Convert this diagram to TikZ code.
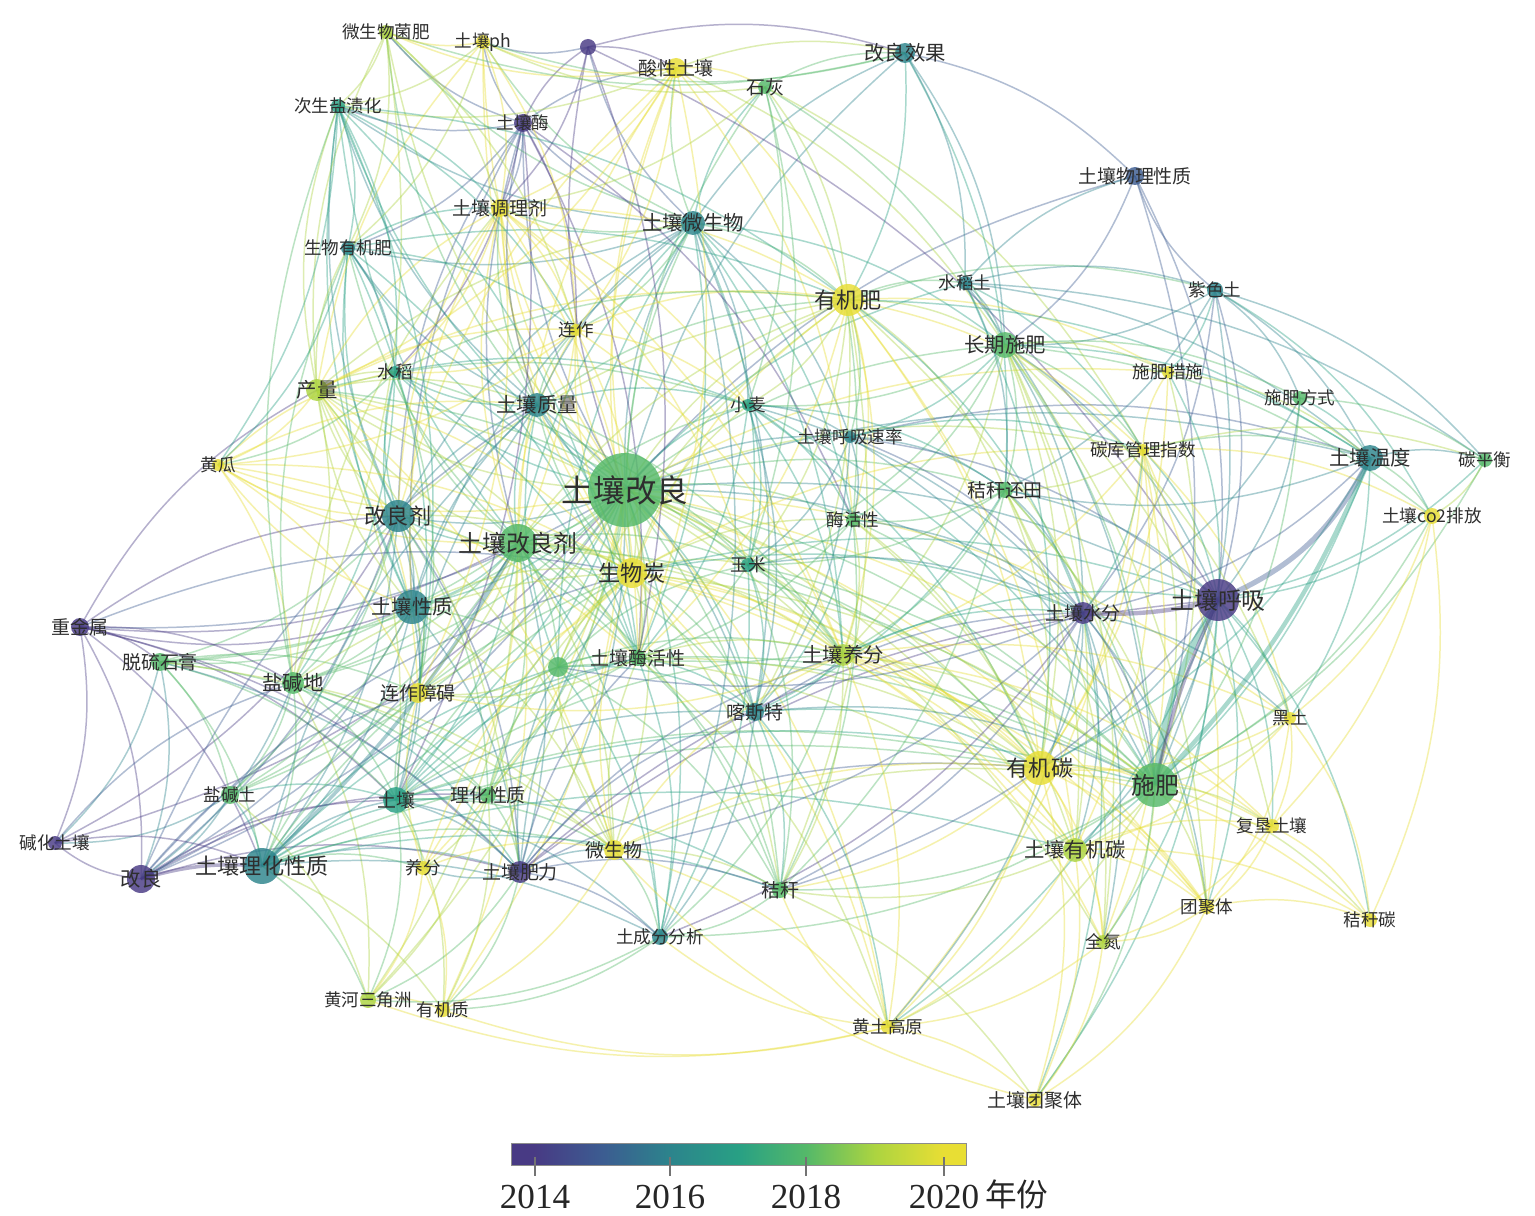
\documentclass[tikz,border=0pt]{standalone}
\usepackage{fontspec}
\setmainfont{Liberation Serif}
\newfontfamily\cjk{Noto Sans CJK SC}
\usetikzlibrary{backgrounds}
\definecolor{c14}{RGB}{72,58,132}
\definecolor{c15}{RGB}{60,92,145}
\definecolor{c16}{RGB}{44,132,140}
\definecolor{c17}{RGB}{40,160,132}
\definecolor{c18}{RGB}{85,185,105}
\definecolor{c19}{RGB}{172,212,64}
\definecolor{c20}{RGB}{232,222,52}
\pgfdeclarehorizontalshading{vir}{100bp}{color(0bp)=(c14); color(25bp)=(c14); color(27.5bp)=(c14); color(35bp)=(c15); color(42.5bp)=(c16); color(50bp)=(c17); color(57.5bp)=(c18); color(65bp)=(c19); color(72.5bp)=(c20); color(75bp)=(c20); color(100bp)=(c20)}
\def\fA{\fontsize{10}{12}\selectfont}
\def\fB{\fontsize{10.8}{13}\selectfont}
\def\fC{\fontsize{11.6}{14}\selectfont}
\def\fD{\fontsize{12.6}{15}\selectfont}
\def\fE{\fontsize{13.6}{16}\selectfont}
\def\fF{\fontsize{18}{21}\selectfont}
\def\nodelist{%
wswjf/386/32/19/7/\fA/微生物菌肥,
ph/483/42/20/7/\fA/土壤ph,
pdot/588/47/14/8/\fA/,
sxtr/676/68/20/10/\fB/酸性土壤,
sh/765/87/18/7/\fB/石灰,
glxg/905/53/16/10/\fC/改良效果,
csyzh/338/106/17/7/\fA/次生盐渍化,
trm/523/123/14/9/\fA/土壤酶,
trtlj/500/208/20/9/\fB/土壤调理剂,
trwsw/693/223/16/12/\fC/土壤微生物,
trwlxz/1135/176/15/9/\fB/土壤物理性质,
swyjf/348/248/16/7/\fA/生物有机肥,
yjf/848/300/20/16/\fD/有机肥,
sdt/965/283/16/7/\fA/水稻土,
zst/1215/290/16/8/\fA/紫色土,
lz/576/330/20/6/\fA/连作,
cqsf/1005/345/18/13/\fC/长期施肥,
sd/395/372/17/6/\fA/水稻,
cl/317/390/19/11/\fC/产量,
sfcs/1168/372/20/6/\fA/施肥措施,
sffs/1300/398/18/7/\fA/施肥方式,
trzl/537/405/16/12/\fC/土壤质量,
xm/748/405/17/6/\fA/小麦,
trhxsl/850/437/16/6/\fA/土壤呼吸速率,
tkgl/1143/450/20/6/\fA/碳库管理指数,
trwd/1370/458/16/13/\fC/土壤温度,
tph/1485/460/18/7/\fA/碳平衡,
hg/218/465/20/6/\fA/黄瓜,
trgl/625/490/18/37/\fF/土壤改良,
jght/1005/490/18/8/\fB/秸秆还田,
glj/398/516/16/16/\fD/改良剂,
co2/1432/516/20/8/\fA/土壤co2排放,
mhx/853/520/18/7/\fA/酶活性,
trglj/518/543/18/19/\fE/土壤改良剂,
swt/632/573/20/15/\fD/生物炭,
ym/748/565/17/7/\fA/玉米,
trxz/412/607/16/17/\fC/土壤性质,
trhx/1218/600/14/21/\fE/土壤呼吸,
trsf/1083/613/14/11/\fB/土壤水分,
zjs/80/627/14/9/\fB/重金属,
gdot/558/667/18/10/\fA/,
trmhx/638/658/18/8/\fB/土壤酶活性,
tryf/843/655/19/11/\fC/土壤养分,
tlsg/160/662/18/9/\fB/脱硫石膏,
yjd/293/683/18/11/\fC/盐碱地,
lzza/418/693/20/10/\fB/连作障碍,
kst/755/712/16/9/\fB/喀斯特,
ht/1290/718/20/6/\fA/黑土,
yjt/1040/768/20/17/\fD/有机碳,
sf/1155/785/18/22/\fE/施肥,
yjtu/230/795/18/9/\fA/盐碱土,
tr/396/800/17/13/\fB/土壤,
lhxz/488/795/18/8/\fB/理化性质,
fktr/1272/826/20/7/\fA/复垦土壤,
jhtr/55/843/14/7/\fA/碱化土壤,
gl/141/879/14/14/\fC/改良,
trlhxz/262/866/16/18/\fD/土壤理化性质,
yf/423/868/20/7/\fA/养分,
trfl/520/872/14/11/\fB/土壤肥力,
wsw/614/850/20/10/\fB/微生物,
tryjt/1075/850/19/12/\fC/土壤有机碳,
jg/780/890/18/8/\fB/秸秆,
tjt/1207/907/20/7/\fA/团聚体,
jgt/1370/920/20/7/\fA/秸秆碳,
qd/1103/942/19/7/\fA/全氮,
tcf/660/937/16/8/\fA/土成分分析,
hhsjz/368/1000/19/8/\fA/黄河三角洲,
yjz/443/1010/20/7/\fA/有机质,
htgy/888/1027/20/7/\fA/黄土高原,
trtjt/1035/1100/20/7/\fB/土壤团聚体}
\def\edgelist{%
trgl/trglj/18, trgl/glj/16, trgl/swt/19, trgl/trxz/17, trgl/trzl/16, trgl/trwsw/16, trgl/yjf/19, trgl/cqsf/18, trgl/trmhx/18, trgl/gdot/18, trgl/tryf/19, trgl/ym/18, trgl/xm/17, trgl/mhx/18, trgl/lz/20, trgl/sd/17, trgl/cl/19, trgl/trtlj/20, trgl/trm/15, trgl/sxtr/20, trgl/tr/17, trgl/lhxz/18, trgl/trlhxz/17, trgl/wsw/19, trgl/trfl/16, trgl/lzza/19, trgl/yjd/18, trgl/tlsg/18, trgl/kst/17, trgl/jg/18, trgl/tcf/17, trgl/sf/18, trgl/yjt/19, trgl/trhx/16, trgl/trsf/16, trgl/jght/18, trgl/tkgl/19, trgl/hg/20, trgl/zjs/15, trgl/gl/15, trgl/yjtu/18, trgl/csyzh/17, trgl/swyjf/17, trgl/wswjf/19, trgl/ph/20, trgl/pdot/14, trgl/sh/18, trgl/trhxsl/16, trgl/tryjt/19, trgl/htgy/20, trgl/yf/20, trgl/hhsjz/19, trgl/yjz/20, trgl/qd/19, trgl/tjt/20, trgl/sfcs/20, trgl/sdt/17, trgl/trwd/16, trgl/glxg/16, trgl/jhtr/14, trgl/trwlxz/15, trgl/ht/20, trgl/fktr/20,
trglj/glj/17, trglj/trxz/17, trglj/swt/19, trglj/trzl/17, trglj/trwsw/17, trglj/yjf/19, trglj/yjd/18, trglj/tlsg/18, trglj/lzza/19, trglj/tr/17, trglj/trfl/16, trglj/lhxz/18, trglj/wsw/19, trglj/gdot/18, trglj/trmhx/18, trglj/tryf/19, trglj/cl/19, trglj/sd/18, trglj/trtlj/20, trglj/trm/15, trglj/sxtr/20, trglj/lz/20, trglj/yjtu/18, trglj/gl/15, trglj/csyzh/17, trglj/swyjf/18, trglj/hg/20, trglj/jg/18, trglj/kst/18, trglj/ym/18, trglj/xm/18, trglj/yjt/19, trglj/sf/18, trglj/tcf/17, trglj/yf/20, trglj/hhsjz/19, trglj/yjz/20, trglj/zjs/14,
glj/trxz/16, glj/cl/19, glj/sd/17, glj/hg/20, glj/tlsg/18, glj/yjd/18, glj/tr/16, glj/trlhxz/16, glj/gl/15, glj/trzl/16, glj/trwsw/16, glj/trm/15, glj/swt/19, glj/lzza/19, glj/trfl/15, glj/yjtu/18, glj/csyzh/16, glj/swyjf/17, glj/trtlj/20, glj/sxtr/20, glj/jhtr/14, glj/wsw/19, glj/trmhx/18, glj/yjf/19, glj/lhxz/18,
trxz/tr/16, trxz/trlhxz/16, trxz/gl/15, trxz/yjd/18, trxz/tlsg/18, trxz/zjs/14, trxz/swt/19, trxz/trzl/16, trxz/cl/19, trxz/sd/17, trxz/trwsw/16, trxz/lzza/19, trxz/trfl/16, trxz/wsw/19, trxz/yjtu/18, trxz/trm/15, trxz/hg/20, trxz/gdot/18, trxz/trtlj/20, trxz/swyjf/17, trxz/csyzh/17,
cl/sd/19, cl/hg/20, cl/trzl/19, cl/swyjf/19, cl/wswjf/19, cl/csyzh/19, cl/trtlj/20, cl/yjf/20, cl/swt/20, cl/lz/20, cl/trmhx/19, cl/lzza/20, cl/yjd/19, cl/tryf/19, cl/trwsw/19, cl/ph/20, cl/tr/19, cl/trfl/19, cl/wsw/20, cl/xm/18, cl/ym/18, zjs/cl/14,
hg/lzza/20, hg/swt/20, hg/trzl/20, hg/sd/20, hg/trmhx/20, hg/yjd/20,
zjs/tlsg/14, zjs/gl/14, zjs/jhtr/14, zjs/trlhxz/14, zjs/tr/14, zjs/trfl/14, zjs/swt/15, zjs/yjd/14, zjs/glj/14,
tlsg/yjd/18, tlsg/yjtu/18, tlsg/gl/16, tlsg/trlhxz/18, tlsg/tr/18, tlsg/lzza/18, tlsg/trfl/16, tlsg/lhxz/18, tlsg/jhtr/16, tlsg/wsw/19,
yjd/trlhxz/18, yjd/yjtu/18, yjd/tr/18, yjd/gl/16, yjd/lhxz/18, yjd/trfl/17, yjd/csyzh/18, yjd/swt/19, yjd/hhsjz/19, yjd/trtlj/19, yjd/swyjf/18, yjd/wsw/19,
yjtu/gl/16, yjtu/trlhxz/17, yjtu/tr/17, yjtu/hhsjz/19, yjtu/jhtr/16,
gl/jhtr/14, gl/tr/14, gl/trfl/14, gl/lhxz/14, gl/swt/15, gl/lzza/15, gl/trzl/15, jhtr/trlhxz/14, jhtr/yjd/15,
trlhxz/tr/16, trlhxz/yf/18, trlhxz/trfl/16, trlhxz/lhxz/17, trlhxz/hhsjz/18, trlhxz/yjz/19, trlhxz/wsw/18, trlhxz/swt/18, trlhxz/lzza/18, trlhxz/tcf/16, trlhxz/jg/17, trlhxz/trmhx/17, trlhxz/gdot/17, trlhxz/tryjt/17, trlhxz/trzl/16, trlhxz/yjt/18,
tr/lhxz/17, tr/yf/18, tr/trfl/16, tr/wsw/18, tr/swt/18, tr/lzza/18, tr/gdot/17, tr/trmhx/17, tr/trzl/16, tr/tcf/16, tr/jg/17, tr/hhsjz/18, tr/yjz/19, tr/kst/16, tr/tryf/18, tr/sf/17, tr/yjt/18,
lhxz/trfl/18, lhxz/yf/19, lhxz/wsw/19, lhxz/swt/19, lhxz/gdot/18, lhxz/trmhx/18, lhxz/hhsjz/19, lhxz/yjz/19,
trfl/wsw/16, trfl/yf/16, trfl/tcf/15, trfl/jg/15, trfl/swt/16, trfl/trmhx/15, trfl/gdot/16, trfl/trsf/14, trfl/trhx/14, trfl/yjt/15, trfl/tryf/15, trfl/yjz/18, trfl/hhsjz/18, trfl/kst/15,
yf/wsw/20, yf/swt/20, yf/yjz/20, yf/hhsjz/20, yf/lzza/20,
wsw/swt/20, wsw/tcf/18, wsw/jg/19, wsw/trmhx/19, wsw/gdot/19, wsw/tryf/20, wsw/yjt/20, wsw/yjz/20, wsw/htgy/20, wsw/sf/19,
gdot/swt/19, gdot/trmhx/18, gdot/trzl/17, gdot/trwsw/17, gdot/tryf/18, gdot/lzza/19, gdot/tcf/17, gdot/jg/18, gdot/kst/17, gdot/ym/18, gdot/yjf/19, gdot/sf/18,
swt/trmhx/19, swt/tryf/20, swt/trzl/18, swt/trwsw/18, swt/yjf/20, swt/lz/20, swt/sxtr/20, swt/trtlj/20, swt/ym/19, swt/xm/19, swt/mhx/19, swt/kst/18, swt/jg/19, swt/yjt/20, swt/sf/19, swt/tryjt/20, swt/trhx/17, swt/trsf/17, swt/lzza/20, swt/tjt/20, swt/htgy/20, swt/ph/20, swt/tkgl/20,
trzl/trwsw/16, trzl/sd/17, trzl/trm/15, trzl/trtlj/18, trzl/lz/18, trzl/yjf/18, trzl/xm/17, trzl/swyjf/16, trzl/csyzh/16, trzl/trmhx/17, trzl/tryf/18, trzl/kst/16, trzl/wswjf/18,
trwsw/trm/15, trwsw/sxtr/18, trwsw/sh/17, trwsw/pdot/15, trwsw/yjf/18, trwsw/glxg/16, trwsw/xm/16, trwsw/trmhx/17, trwsw/tryf/17, trwsw/lz/18, trwsw/trtlj/18, trwsw/swyjf/16, trwsw/csyzh/16, trwsw/ph/18, trwsw/wswjf/18, trwsw/mhx/17, trwsw/trhxsl/16, trwsw/cqsf/17, trwsw/ym/17, trwsw/kst/16, trwsw/tcf/16,
trm/pdot/14, trm/ph/15, trm/sxtr/15, trm/trtlj/15, trm/wswjf/15, trm/csyzh/15, trm/sd/14, trm/swyjf/15, trm/mhx/14, trm/trmhx/14, trm/lz/14, trm/tr/14,
pdot/sxtr/14, pdot/ph/15, pdot/glxg/14, pdot/trtlj/14, pdot/trmhx/14, pdot/trhx/14,
sxtr/sh/20, sxtr/ph/20, sxtr/trtlj/20, sxtr/yjf/20, sxtr/glxg/19, sxtr/wswjf/20, sxtr/lz/20, sxtr/csyzh/19, sxtr/cl/20, sxtr/trmhx/20, sxtr/mhx/20, sxtr/cqsf/19,
sh/ph/19, sh/trtlj/19, sh/yjf/19, sh/xm/18, sh/cqsf/18, sh/mhx/18, sh/ym/18, sh/glxg/18, sh/tkgl/19,
glxg/trwlxz/15, glxg/yjf/17, glxg/ph/18, glxg/wswjf/18, glxg/cqsf/16, glxg/jght/17, glxg/sdt/16,
ph/wswjf/20, ph/csyzh/19, ph/trtlj/20, ph/lz/20, ph/swyjf/19,
wswjf/csyzh/19, wswjf/swyjf/19, wswjf/trtlj/19, wswjf/lz/19, wswjf/yjd/19,
csyzh/swyjf/17, csyzh/sd/17, csyzh/lz/17, csyzh/trtlj/17, csyzh/lzza/17, csyzh/trmhx/17, csyzh/yjf/17, csyzh/hg/17,
swyjf/sd/16, swyjf/lz/17, swyjf/trtlj/17, swyjf/yjf/17, swyjf/lzza/17, swyjf/hg/17, swyjf/trmhx/17,
trtlj/lz/20, trtlj/yjf/20, trtlj/sd/20, trtlj/trmhx/20, trtlj/tryf/20, trtlj/lzza/20, trtlj/ym/20, trtlj/xm/20,
lz/lzza/20, lz/yjf/20, lz/sd/20, lz/trmhx/20, lz/tryf/20, lz/xm/20, lz/hg/20,
sd/yjf/18, sd/trmhx/17, sd/lzza/18, sd/tryf/18, sd/xm/17, sd/hg/18, sd/yjd/17,
yjf/sdt/18, yjf/cqsf/19, yjf/xm/19, yjf/trhxsl/18, yjf/mhx/20, yjf/tryf/20, yjf/jght/19, yjf/tkgl/20, yjf/sfcs/20, yjf/ym/19, yjf/trmhx/20, yjf/yjt/20, yjf/sf/19, yjf/tryjt/20, yjf/zst/18, yjf/kst/19, yjf/trwd/17, yjf/jg/19, yjf/trsf/17,
sdt/cqsf/16, sdt/zst/16, sdt/trwd/16, sdt/jght/16, sdt/yjt/17, sdt/sf/16, sdt/trwlxz/16, sdt/tkgl/17, sdt/tph/16,
zst/trwlxz/15, zst/cqsf/16, zst/trwd/16, zst/sffs/16, zst/tph/16, zst/jght/16, zst/sfcs/17, zst/sf/16, zst/trhx/15, zst/trsf/15, zst/co2/17,
trwlxz/cqsf/15, trwlxz/trhx/15, trwlxz/sf/15,
cqsf/jght/18, cqsf/tkgl/18, cqsf/trhxsl/17, cqsf/sfcs/19, cqsf/trwd/17, cqsf/trhx/16, cqsf/trsf/16, cqsf/sf/18, cqsf/yjt/19, cqsf/tryjt/19, cqsf/tryf/19, cqsf/mhx/18, cqsf/xm/18, cqsf/ym/18, cqsf/sffs/18, cqsf/co2/18, cqsf/ht/19, cqsf/tjt/19, cqsf/qd/19, cqsf/fktr/19,
xm/ym/17, xm/trhxsl/16, xm/mhx/17, xm/tryf/17, xm/jght/17, xm/kst/16, xm/trmhx/17, xm/sf/17, xm/trsf/16, xm/yjt/17,
trhxsl/mhx/16, trhxsl/trhx/15, trhxsl/trsf/15, trhxsl/trwd/15, trhxsl/jght/16, trhxsl/ym/16, trhxsl/sf/16, trhxsl/tkgl/17, trhxsl/kst/16,
tkgl/sfcs/20, tkgl/trwd/18, tkgl/tph/19, tkgl/co2/20, tkgl/sf/19, tkgl/yjt/20, tkgl/tryjt/20, tkgl/trhx/17, tkgl/trsf/17, tkgl/jght/19, tkgl/tryf/20, tkgl/ht/20, tkgl/htgy/20, tkgl/qd/20, tkgl/tjt/20,
sfcs/trwd/19, sfcs/sf/19, sfcs/trhx/17, sfcs/yjt/20,
sffs/trwd/17, sffs/trhx/16, sffs/sf/18, sffs/tph/18, sffs/trsf/16,
trwd/tph/16, trwd/co2/18, trwd/trsf/15, trwd/jght/16, trwd/yjt/17, trwd/ht/17, trwd/tryjt/17,
tph/co2/19, tph/trhx/17, tph/sf/18,
co2/trhx/17, co2/sf/18, co2/ht/20, co2/jgt/20, co2/fktr/20,
jght/mhx/18, jght/trsf/16, jght/trhx/16, jght/sf/18, jght/yjt/19, jght/tryjt/19, jght/tryf/18, jght/ym/18, jght/jg/18, jght/tjt/19, jght/qd/19, jght/kst/17,
mhx/tryf/19, mhx/ym/18, mhx/kst/17, mhx/yjt/19, mhx/sf/18, mhx/trsf/16, mhx/trmhx/18, mhx/jg/18, mhx/tryjt/19,
ym/tryf/18, ym/kst/17, ym/trmhx/18, ym/sf/18, ym/yjt/18, ym/jg/18, ym/trsf/16, ym/tcf/17,
trmhx/tryf/19, trmhx/kst/17, trmhx/jg/18, trmhx/tcf/17, trmhx/yjt/19, trmhx/sf/18, trmhx/lzza/19, trmhx/htgy/19, trmhx/tryjt/19,
tryf/kst/17, tryf/yjt/20, tryf/sf/19, tryf/jg/19, tryf/tryjt/20, tryf/tcf/18, tryf/htgy/20, tryf/trsf/17, tryf/trhx/17, tryf/tjt/20, tryf/qd/20, tryf/fktr/20, tryf/ht/20, tryf/lzza/20,
kst/jg/17, kst/tcf/16, kst/yjt/17, kst/sf/16, kst/trsf/15, kst/htgy/17,
trsf/sf/15, trsf/yjt/16, trsf/tryjt/16, trsf/jg/15, trsf/tcf/14, trsf/ht/16, trsf/htgy/16, trsf/qd/16, trsf/tjt/16, trsf/trtjt/17, trsf/wsw/15, trsf/gdot/15,
trhx/yjt/16, trhx/tryjt/16, trhx/ht/17, trhx/fktr/17, trhx/jgt/17, trhx/tjt/17, trhx/qd/17, trhx/jg/15, trhx/htgy/17, trhx/trtjt/17,
ht/sf/19, ht/yjt/20, ht/tryjt/20, ht/fktr/20, ht/jgt/20, ht/tjt/20,
yjt/sf/20, yjt/tryjt/20, yjt/qd/20, yjt/tjt/20, yjt/fktr/20, yjt/htgy/20, yjt/jg/20, yjt/trtjt/20, yjt/jgt/20,
sf/tryjt/19, sf/qd/19, sf/tjt/19, sf/fktr/19, sf/jgt/19, sf/jg/18, sf/htgy/19, sf/trtjt/18, sf/tcf/18,
tryjt/qd/20, tryjt/tjt/20, tryjt/fktr/20, tryjt/htgy/20, tryjt/jg/19, tryjt/trtjt/20, tryjt/jgt/20,
fktr/tjt/20, fktr/jgt/20, fktr/qd/20, tjt/jgt/20, tjt/qd/20, tjt/trtjt/20, qd/trtjt/20, qd/htgy/20,
htgy/trtjt/20, htgy/jg/20, htgy/tcf/20, htgy/yjz/20, htgy/hhsjz/20, jg/tcf/18, jg/trtjt/19, tcf/yjz/18, tcf/hhsjz/18, hhsjz/yjz/20, trtjt/wsw/20}
\begin{document}
\begin{tikzpicture}[x=0.02cm, y=-0.02cm,
  dot/.style={circle, inner sep=0pt, minimum size=#1*0.04cm, fill opacity=0.82, draw=none},
  lab/.style={inner sep=0pt, text=black!82},
  ed/.style={line width=0.85pt, draw opacity=0.4},
  thk/.style={line width=#1, draw opacity=0.4},
  tick/.style={draw=black!55, line width=0.8pt},
  yr/.style={inner sep=0pt, font=\fontsize{20}{22}\selectfont, text=black!85}]
\useasboundingbox (0,0) rectangle (1535,1216);
\foreach \i/\x/\y/\u/\r/\f/\t in \nodelist {\node[dot=\r, fill=c\u] (\i) at (\x,\y) {};}
\begin{scope}[on background layer]
\fill[white] (0,0) rectangle (1535,1216);
\foreach \p/\q/\u in \edgelist {\draw[ed, draw=c\u] (\p.center) to[bend left=16] (\q.center);}
\draw[thk=3pt, draw=c15] (trhx.center) to[bend right=20] (trwd.center);
\draw[thk=3.5pt, draw=c17] (trhx.center) to[bend right=12] (sf.center);
\draw[thk=2pt, draw=c14] (trhx.center) to[bend right=6] (sf.center);
\draw[thk=2.5pt, draw=c17] (sf.center) to[bend right=10] (trwd.center);
\draw[thk=2.5pt, draw=c14] (trsf.center) to[bend right=8] (trhx.center);
\draw[thk=2pt, draw=c14] (gl.center) to[bend left=10] (trlhxz.center);
\draw[thk=2pt, draw=c16] (trlhxz.center) to[bend right=8] (trglj.center);
\end{scope}
\foreach \i/\x/\y/\u/\r/\f/\t in \nodelist {\node[lab, font=\cjk\f] (\i-l) at (\x,\y) {\t};}
% colour bar
\shade[shading=vir, draw=black!45, line width=0.5pt] (511,1143) rectangle (966,1165);
\coordinate (b14) at (535,1157); \coordinate (b16) at (670,1157);
\coordinate (b18) at (806,1157); \coordinate (b20) at (944,1157);
\foreach \k in {14,16,18,20} {\draw[tick] (b\k) -- ++(0,19);}
\node[yr] (t14) at (535,1197) {2014};
\node[yr] (t16) at (670,1197) {2016};
\node[yr] (t18) at (806,1197) {2018};
\node[yr] (t20) at (944,1197) {2020};
\node[inner sep=0pt, font=\cjk\fontsize{18}{20}\selectfont, text=black!85, anchor=west] (nf) at (985,1194) {年份};
\end{tikzpicture}
\end{document}
